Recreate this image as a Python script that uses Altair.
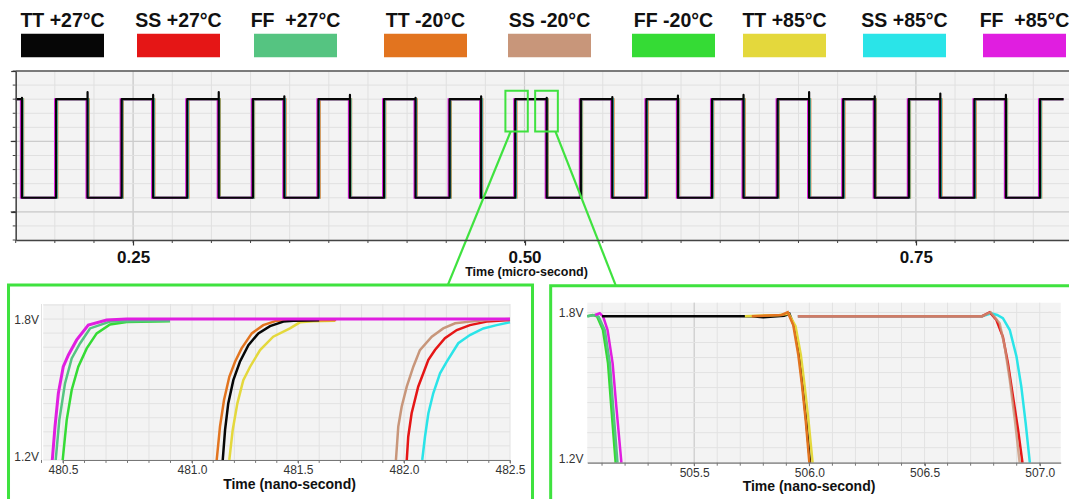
import altair as alt
import pandas as pd

# ---------------------------------------------------------------- data
corners = ["TT +27°C", "SS +27°C", "FF  +27°C", "TT -20°C", "SS -20°C",
           "FF -20°C", "TT +85°C", "SS +85°C", "FF  +85°C"]
colors = ["#060606", "#e51616", "#55c481", "#e2741f", "#c8967a",
          "#35db35", "#e4d83c", "#2ae4e8", "#e01ee0"]

# main waveform: time in micro-seconds, level in grid units
main_start_us = 0.175
main_end_us = 0.8443
main_high = 1.6
main_low = 0.2
main_fall_us = [0.1790, 0.2209, 0.2628, 0.3047, 0.3466, 0.3885, 0.4304, 0.4723,
                0.5142, 0.5561, 0.5980, 0.6399, 0.6818, 0.7237, 0.7656, 0.8075]
main_rise_us = [0.2008, 0.2427, 0.2846, 0.3265, 0.3684, 0.4103, 0.4522, 0.4941,
                0.5360, 0.5779, 0.6198, 0.6617, 0.7036, 0.7455, 0.7874, 0.8293]
# small spikes above the high level at each falling edge
main_fall_peak = [1.62, 1.70, 1.66, 1.70, 1.64, 1.66, 1.62, 1.64,
                  1.62, 1.63, 1.65, 1.66, 1.70, 1.64, 1.68, 1.66]
fringe_corners = ["TT -20°C", "SS +85°C", "FF  +85°C"]
fringe_skew_us = [0.0008, 0.0004, -0.0007]

main_x_minor = [0.175, 0.2, 0.225, 0.25, 0.275, 0.3, 0.325, 0.35, 0.375, 0.4,
                0.425, 0.45, 0.475, 0.5, 0.525, 0.55, 0.575, 0.6, 0.625, 0.65,
                0.675, 0.7, 0.725, 0.75, 0.775, 0.8, 0.825]
main_x_major = [0.25, 0.5, 0.75]
main_y_minor = [-0.4, -0.2, 0.0, 0.2, 0.4, 0.6, 0.8, 1.0, 1.2, 1.4, 1.6, 1.8, 2.0]
main_y_major = [0.0, 1.0]

# zoom boxes on the main trace and their connectors
box_t0 = [0.4878, 0.5068]
box_t1 = [0.5021, 0.5213]
box_v0 = [1.14, 1.14]
box_v1 = [1.72, 1.72]
conn_t0 = [0.4911, 0.5198]
conn_v0 = [1.138, 1.138]
conn_t1 = [0.4510, 0.5582]
conn_v1 = [-1.04, -1.04]

# left zoom: rising edges (ns, V)
left_traces = {
    "FF -20°C": ([480.4988, 480.5143, 480.5337, 480.5593, 480.5919, 480.6306, 480.6822, 480.7469, 480.9147],
                 [1.2, 1.370, 1.498, 1.597, 1.675, 1.739, 1.777, 1.787, 1.791]),
    "FF  +27°C": ([480.4717, 480.4857, 480.5078, 480.5337, 480.5659, 480.6047, 480.6822, 480.9147],
                  [1.2, 1.370, 1.526, 1.632, 1.696, 1.760, 1.789, 1.793]),
    "TT +85°C": ([481.176, 481.192, 481.214, 481.242, 481.274, 481.321, 481.383, 481.462, 481.509, 481.572, 481.675],
                 [1.2, 1.328, 1.441, 1.540, 1.597, 1.668, 1.725, 1.760, 1.786, 1.791, 1.793]),
    "TT -20°C": ([481.1165, 481.132, 481.151, 481.176, 481.203, 481.234, 481.282, 481.336, 481.4, 481.68],
                 [1.2, 1.342, 1.455, 1.554, 1.618, 1.675, 1.739, 1.774, 1.793, 1.796]),
    "TT +27°C": ([481.145, 481.156, 481.171, 481.195, 481.226, 481.266, 481.313, 481.368, 481.431, 481.478, 481.6],
                 [1.2, 1.328, 1.441, 1.540, 1.618, 1.689, 1.739, 1.770, 1.789, 1.793, 1.795]),
    "SS +85°C": ([482.086, 482.099, 482.115, 482.138, 482.17, 482.201, 482.256, 482.311, 482.374, 482.437, 482.5],
                 [1.2, 1.299, 1.399, 1.484, 1.569, 1.618, 1.697, 1.732, 1.760, 1.774, 1.786]),
    "SS +27°C": ([482.013, 482.02, 482.036, 482.067, 482.115, 482.146, 482.193, 482.249, 482.311, 482.39, 482.5],
                 [1.2, 1.299, 1.399, 1.512, 1.626, 1.668, 1.718, 1.753, 1.774, 1.789, 1.796]),
    "SS -20°C": ([481.962, 481.973, 481.989, 482.013, 482.044, 482.075, 482.131, 482.185, 482.241, 482.311, 482.39, 482.5],
                 [1.2, 1.342, 1.427, 1.512, 1.597, 1.668, 1.725, 1.760, 1.782, 1.789, 1.796, 1.8]),
    "FF  +85°C": ([480.4585, 480.469, 480.482, 480.501, 480.521, 480.553, 480.598, 480.669, 480.747, 482.5],
                  [1.2, 1.342, 1.484, 1.597, 1.647, 1.711, 1.774, 1.796, 1.8, 1.8]),
}
left_x_ticks = [480.4167, 480.5, 480.5833, 480.6667, 480.75, 480.8333, 480.9167, 481.0,
                481.1, 481.2, 481.3, 481.4, 481.5, 481.6, 481.7, 481.8, 481.9, 482.0,
                482.1, 482.2, 482.3, 482.4, 482.5]
left_x_labels = [480.5, 481.0, 481.5, 482.0, 482.5]
left_y_grid = [1.2, 1.26, 1.32, 1.38, 1.44, 1.5, 1.56, 1.62, 1.68, 1.74, 1.8, 1.86]

# right zoom: falling edges (ns, V)
right_traces = {
    "FF -20°C": ([505.036, 505.06, 505.078, 505.104, 505.126, 505.140, 505.159],
                 [1.785, 1.79, 1.785, 1.730, 1.597, 1.424, 1.2]),
    "FF  +27°C": ([505.036, 505.07, 505.085, 505.112, 505.134, 505.148, 505.167],
                  [1.785, 1.79, 1.783, 1.730, 1.597, 1.424, 1.2]),
    "FF  +85°C": ([505.07, 505.09, 505.105, 505.124, 505.146, 505.162, 505.184],
                  [1.79, 1.797, 1.783, 1.730, 1.597, 1.424, 1.2]),
    "TT +27°C": ([505.10, 505.75, 505.80, 505.89, 505.913, 505.935, 505.957, 505.971, 505.986, 506.003],
                 [1.785, 1.785, 1.781, 1.787, 1.795, 1.743, 1.624, 1.504, 1.371, 1.2]),
    "TT +85°C": ([505.72, 505.87, 505.91, 505.94, 505.963, 505.979, 505.996, 506.014],
                 [1.785, 1.79, 1.795, 1.745, 1.63, 1.51, 1.37, 1.2]),
    "TT -20°C": ([505.75, 505.88, 505.906, 505.93, 505.952, 505.968, 505.984, 506.0],
                 [1.785, 1.79, 1.801, 1.75, 1.63, 1.51, 1.37, 1.2]),
    "SS +85°C": ([505.95, 506.75, 506.79, 506.815, 506.84, 506.87, 506.899, 506.92, 506.939, 506.957],
                 [1.785, 1.785, 1.797, 1.79, 1.777, 1.73, 1.624, 1.504, 1.357, 1.2]),
    "SS +27°C": ([505.95, 506.75, 506.783, 506.812, 506.84, 506.862, 506.884, 506.906, 506.925],
                 [1.785, 1.785, 1.801, 1.770, 1.703, 1.597, 1.464, 1.331, 1.2]),
    "SS -20°C": ([505.95, 506.75, 506.787, 506.826, 506.848, 506.870, 506.892, 506.913],
                 [1.785, 1.785, 1.801, 1.757, 1.663, 1.530, 1.371, 1.2]),
}
right_x_ticks = [505.1, 505.2, 505.3, 505.4, 505.5, 505.6, 505.7, 505.8, 505.9, 506.0,
                 506.1, 506.2, 506.3, 506.4, 506.5, 506.6, 506.7, 506.8, 506.9, 507.0]
right_x_labels = [505.5, 506.0, 506.5, 507.0]
right_y_grid = [1.2, 1.26, 1.32, 1.38, 1.44, 1.5, 1.56, 1.62, 1.68, 1.74, 1.8]

# ---------------------------------------------------------------- style / layout
FONT = "Liberation Sans"
GREEN = "#3fe23f"
color_of = dict(zip(corners, colors))


def sc(domain, rng):
    return alt.Scale(domain=domain, range=rng, nice=False, zero=False)


XS_MAIN = sc([0.175, 0.8478], [15.7, 1069])
YS_MAIN = sc([-0.4, 2.0], [240, 71])
XS_LEFT = sc([480.5, 481.0, 482.5], [63, 192, 510])
YS_LEFT = sc([1.2, 1.864], [460, 304])
XS_RIGHT = sc([505.036, 507.091], [587.3, 1060.7])
YS_RIGHT = sc([1.2, 1.839], [462.7, 302.7])
XS_LEG = sc(list(range(9)), [62.5, 178.5, 295.5, 425.5, 549.5, 673.5, 784.5, 904.5, 1024.5])


def rects(df, xs, ys, **mark):
    return alt.Chart(df).mark_rect(**mark).encode(
        x=alt.X("x0:Q", scale=xs, axis=None), x2="x1:Q",
        y=alt.Y("y0:Q", scale=ys, axis=None), y2="y1:Q")


def vrules(xvals, y0, y1, xs, ys, **mark):
    df = pd.DataFrame({"x0": xvals, "y0": y0, "y1": y1})
    return alt.Chart(df).mark_rule(**mark).encode(
        x=alt.X("x0:Q", scale=xs, axis=None),
        y=alt.Y("y0:Q", scale=ys, axis=None), y2="y1:Q")


def hrules(yvals, x0, x1, xs, ys, **mark):
    df = pd.DataFrame({"y0": yvals, "x0": x0, "x1": x1})
    return alt.Chart(df).mark_rule(**mark).encode(
        x=alt.X("x0:Q", scale=xs, axis=None), x2="x1:Q",
        y=alt.Y("y0:Q", scale=ys, axis=None))


def seg(x0, y0, x1, y1, xs, ys, **mark):
    df = pd.DataFrame({"x0": x0, "y0": y0, "x1": x1, "y1": y1})
    return alt.Chart(df).mark_rule(**mark).encode(
        x=alt.X("x0:Q", scale=xs, axis=None), x2="x1:Q",
        y=alt.Y("y0:Q", scale=ys, axis=None), y2="y1:Q")


def line(ts, vs, xs, ys, xaxis=None, yaxis=None, **mark):
    df = pd.DataFrame({"t": ts, "v": vs, "seq": list(range(len(ts)))})
    return alt.Chart(df).mark_line(**mark).encode(
        x=alt.X("t:Q", scale=xs, axis=xaxis),
        y=alt.Y("v:Q", scale=ys, axis=yaxis),
        order="seq:Q")


def wave(skew, peaks=None):
    ts, vs = [main_start_us], [main_high]
    for i, (f, r) in enumerate(zip(main_fall_us, main_rise_us)):
        top = main_high if peaks is None else peaks[i]
        ts += [f + skew, f + skew, f + skew, r + skew, r + skew]
        vs += [main_high, top, main_low, main_low, main_high]
    ts.append(main_end_us)
    vs.append(main_high)
    return ts, vs


layers = []

# ---------------- legend
leg = pd.DataFrame({"corner": corners, "slot": list(range(9)),
                    "label": [c.replace("  ", "\u00a0 ") for c in corners]})
cscale = alt.Scale(domain=corners, range=colors)
layers.append(alt.Chart(leg).mark_point(
    shape="M-1,-0.283H1V0.283H-1Z", size=83 * 83, filled=True, opacity=1, strokeWidth=0
).encode(x=alt.X("slot:Q", scale=XS_LEG, axis=None), y=alt.value(45.5),
         color=alt.Color("corner:N", scale=cscale, legend=None)))
layers.append(alt.Chart(leg).mark_text(
    font=FONT, fontSize=19.5, fontWeight="bold", color="#111", align="center", baseline="alphabetic"
).encode(x=alt.X("slot:Q", scale=XS_LEG, axis=None), y=alt.value(27), text="label:N"))

# ---------------- main plot
layers.append(rects(pd.DataFrame({"x0": [0.175], "x1": [0.8478], "y0": [-0.4], "y1": [2.0]}),
                    XS_MAIN, YS_MAIN, fill="#f3f3f3"))
layers.append(vrules(main_x_minor, -0.4, 2.0, XS_MAIN, YS_MAIN, color="#e0e0e0", strokeWidth=1))
layers.append(vrules(main_x_major, -0.4, 2.0, XS_MAIN, YS_MAIN, color="#cccccc", strokeWidth=1.2))
layers.append(hrules(main_y_minor, 0.175, 0.8478, XS_MAIN, YS_MAIN, color="#e0e0e0", strokeWidth=1))
layers.append(hrules(main_y_major, 0.175, 0.8478, XS_MAIN, YS_MAIN, color="#cccccc", strokeWidth=1.2))
# minor tick marks
layers.append(vrules(main_x_minor, -0.4, -0.443, XS_MAIN, YS_MAIN, color="#444", strokeWidth=1))
layers.append(hrules(main_y_minor, 0.175, 0.1731, XS_MAIN, YS_MAIN, color="#444", strokeWidth=1))
layers.append(hrules(main_y_major, 0.175, 0.1718, XS_MAIN, YS_MAIN, color="#444", strokeWidth=1))
# top border
layers.append(hrules([2.0], 0.175, 0.8478, XS_MAIN, YS_MAIN, color="#555", strokeWidth=1.5))

for c, s in zip(fringe_corners, fringe_skew_us):
    ts, vs = wave(s)
    layers.append(line(ts, vs, XS_MAIN, YS_MAIN, color=color_of[c], strokeWidth=2))

ts, vs = wave(0.0, main_fall_peak)
main_xaxis = alt.Axis(
    orient="bottom", offset=240 - 499, values=main_x_major, format=".2f", grid=False,
    tickSize=5, tickColor="#333", tickWidth=1.2, domain=True, domainColor="#444", domainWidth=1.5,
    labelFont=FONT, labelFontSize=17, labelFontWeight="bold", labelColor="#111",
    labelPadding=12, labelBaseline="middle", labelFlush=False,
    title="Time (micro-second)", titleFont=FONT, titleFontSize=12.5, titleFontWeight="bold",
    titleColor="#111", titleX=526, titleY=31, titleBaseline="middle", titleAlign="center", zindex=2)
main_yaxis = alt.Axis(
    orient="left", offset=-15.7, values=[0.0, 1.0, 2.0], grid=False, labels=False,
    tickSize=5, tickColor="#333", tickWidth=1.2, domain=True, domainColor="#444", domainWidth=1.5,
    title=None, zindex=2)
layers.append(line(ts, vs, XS_MAIN, YS_MAIN, xaxis=main_xaxis, yaxis=main_yaxis,
                   color="#060606", strokeWidth=2.2, strokeJoin="round"))

# zoom boxes + connectors
layers.append(rects(pd.DataFrame({"x0": box_t0, "x1": box_t1, "y0": box_v0, "y1": box_v1}),
                    XS_MAIN, YS_MAIN, fillOpacity=0, stroke=GREEN, strokeWidth=2))
layers.append(seg(conn_t0, conn_v0, conn_t1, conn_v1, XS_MAIN, YS_MAIN, color=GREEN, strokeWidth=2.2))

# ---------------- left zoom panel
layers.append(rects(pd.DataFrame({"x0": [480.2888], "x1": [482.6061], "y0": [0.98], "y1": [1.9447]}),
                    XS_LEFT, YS_LEFT, fillOpacity=0, stroke=GREEN, strokeWidth=3))
layers.append(rects(pd.DataFrame({"x0": [480.4236], "x1": [482.5], "y0": [1.2], "y1": [1.864]}),
                    XS_LEFT, YS_LEFT, fill="#f3f3f3"))
layers.append(vrules(left_x_ticks, 1.2, 1.864, XS_LEFT, YS_LEFT, color="#e2e2e2", strokeWidth=1))
layers.append(hrules(left_y_grid, 480.4236, 482.5, XS_LEFT, YS_LEFT, color="#e2e2e2", strokeWidth=1))
layers.append(hrules([1.5], 480.4236, 482.5, XS_LEFT, YS_LEFT, color="#cfcfcf", strokeWidth=1))
layers.append(vrules(left_x_ticks, 1.2, 1.1875, XS_LEFT, YS_LEFT, color="#777", strokeWidth=1))

left_xaxis = alt.Axis(
    orient="bottom", offset=460 - 499, values=left_x_labels, format=".1f", grid=False,
    tickSize=3, tickColor="#777", domain=True, domainColor="#777", domainWidth=1.2,
    labelFont=FONT, labelFontSize=12, labelColor="#333", labelPadding=6.5,
    labelBaseline="middle", labelFlush=False,
    title="Time (nano-second)", titleFont=FONT, titleFontSize=14, titleFontWeight="bold",
    titleColor="#111", titleX=289, titleY=24, titleBaseline="middle", titleAlign="center", zindex=2)
left_yaxis = alt.Axis(
    orient="left", offset=-43.3, values=[1.2, 1.8], grid=False, ticks=False, tickSize=0,
    domain=False, labelExpr="format(datum.value, '.1f') + 'V'",
    labelFont=FONT, labelFontSize=12, labelColor="#333", labelPadding=4.8, labelFlush=False,
    labelBaseline={"condition": {"test": "datum.value < 1.5", "value": "alphabetic"}, "value": "middle"},
    title=None, zindex=2)
first = True
for c, (ts, vs) in left_traces.items():
    w = 3 if c == "FF  +85°C" else 2.5
    if first:
        layers.append(line(ts, vs, XS_LEFT, YS_LEFT, xaxis=left_xaxis, yaxis=left_yaxis,
                           color=color_of[c], strokeWidth=w))
        first = False
    else:
        layers.append(line(ts, vs, XS_LEFT, YS_LEFT, color=color_of[c], strokeWidth=w))

# ---------------- right zoom panel
layers.append(rects(pd.DataFrame({"x0": [504.877], "x1": [507.14], "y0": [1.0], "y1": [1.907]}),
                    XS_RIGHT, YS_RIGHT, fillOpacity=0, stroke=GREEN, strokeWidth=3))
layers.append(rects(pd.DataFrame({"x0": [505.036], "x1": [507.091], "y0": [1.2], "y1": [1.839]}),
                    XS_RIGHT, YS_RIGHT, fill="#f3f3f3"))
layers.append(vrules(right_x_ticks, 1.2, 1.839, XS_RIGHT, YS_RIGHT, color="#e2e2e2", strokeWidth=1))
layers.append(vrules([505.5], 1.2, 1.839, XS_RIGHT, YS_RIGHT, color="#c8c8c8", strokeWidth=1))
layers.append(hrules(right_y_grid, 505.036, 507.091, XS_RIGHT, YS_RIGHT, color="#e2e2e2", strokeWidth=1))
layers.append(vrules(right_x_ticks, 1.2, 1.188, XS_RIGHT, YS_RIGHT, color="#777", strokeWidth=1))

right_xaxis = alt.Axis(
    orient="bottom", offset=462.7 - 499, values=right_x_labels, format=".1f", grid=False,
    tickSize=3, tickColor="#777", domain=True, domainColor="#777", domainWidth=1.2,
    labelFont=FONT, labelFontSize=12, labelColor="#333", labelPadding=6.5,
    labelBaseline="middle", labelFlush=False,
    title="Time (nano-second)", titleFont=FONT, titleFontSize=14, titleFontWeight="bold",
    titleColor="#111", titleX=808.5, titleY=24, titleBaseline="middle", titleAlign="center", zindex=2)
right_yaxis = alt.Axis(
    orient="left", offset=-587.3, values=[1.2, 1.8], grid=False, ticks=False, tickSize=0,
    domain=False, labelExpr="format(datum.value, '.1f') + 'V'",
    labelFont=FONT, labelFontSize=12, labelColor="#333", labelPadding=4.3, labelFlush=False,
    labelBaseline={"condition": {"test": "datum.value < 1.5", "value": "alphabetic"}, "value": "middle"},
    title=None, zindex=2)
first = True
for c, (ts, vs) in right_traces.items():
    if first:
        layers.append(line(ts, vs, XS_RIGHT, YS_RIGHT, xaxis=right_xaxis, yaxis=right_yaxis,
                           color=color_of[c], strokeWidth=2.5))
        first = False
    else:
        op = 0.8 if c == "SS -20°C" else 1
        layers.append(line(ts, vs, XS_RIGHT, YS_RIGHT, color=color_of[c], strokeWidth=2.5, opacity=op))

chart = alt.layer(*layers).resolve_scale(
    x="independent", y="independent", color="independent"
).properties(
    width=1069, height=499, padding=0, autosize=alt.AutoSizeParams(type="none"),
    background="white"
).configure_view(strokeWidth=0)

chart.save("out.html", embed_options={"renderer": "svg", "actions": False})
